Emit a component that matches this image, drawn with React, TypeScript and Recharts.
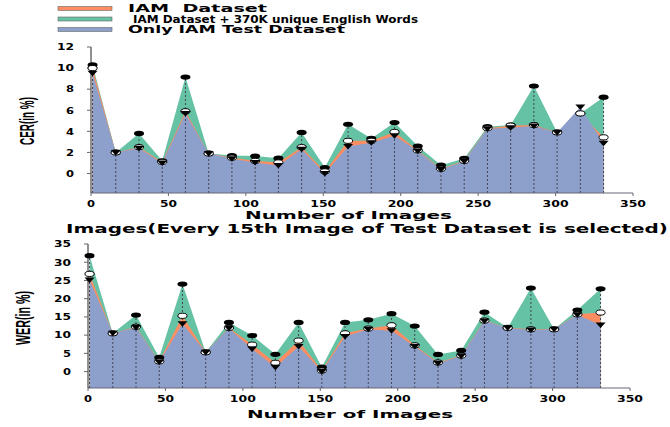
import React from "react"
import {
	ComposedChart,
	Area,
	Line,
	XAxis,
	YAxis,
	ReferenceLine,
} from "recharts"

// every 15th image of the test set
const images = [1, 16, 31, 46, 61, 76, 91, 106, 121, 136, 151, 166, 181, 196, 211, 226, 241, 256, 271, 286, 301, 316, 331]

const cerWords = [10.3, 2.0, 3.8, 1.2, 9.15, 1.9, 1.7, 1.65, 1.45, 3.9, 0.57, 4.67, 3.33, 4.83, 2.6, 0.79, 1.43, 4.44, 4.6, 8.3, 3.9, 5.7, 7.24]
const cerIam = [10.0, 2.0, 2.5, 1.1, 5.9, 1.9, 1.5, 1.2, 1.05, 2.5, 0.2, 3.1, 3.1, 3.94, 2.2, 0.45, 1.2, 4.3, 4.54, 4.6, 3.9, 5.7, 3.43]
const cerTest = [9.5, 2.0, 2.4, 1.0, 5.7, 1.9, 1.4, 1.05, 0.75, 2.3, 0.0, 2.55, 2.92, 3.59, 2.13, 0.38, 1.17, 4.25, 4.35, 4.5, 3.9, 6.3, 2.86]

const werWords = [31.8, 10.5, 15.5, 3.9, 24.0, 5.3, 13.5, 9.9, 4.75, 13.5, 1.2, 13.5, 14.2, 15.9, 12.5, 4.7, 5.8, 16.3, 12.0, 22.9, 11.6, 16.9, 22.7]
const werIam = [26.8, 10.5, 12.3, 2.8, 15.3, 5.3, 12.0, 7.4, 2.4, 8.5, 0.3, 10.5, 11.8, 12.7, 7.2, 2.5, 4.4, 14.0, 12.0, 11.6, 11.6, 15.7, 16.2]
const werTest = [25.1, 10.5, 12.1, 2.6, 13.1, 5.3, 11.9, 6.2, 1.2, 6.9, 0.0, 9.6, 11.6, 11.2, 6.9, 2.3, 4.3, 13.9, 12.0, 11.4, 11.6, 15.6, 12.8]

const xTicks = [0, 50, 100, 150, 200, 250, 300, 350]
const cerTicks = [0, 2, 4, 6, 8, 10, 12]
const werTicks = [0, 5, 10, 15, 20, 25, 30, 35]

const ORANGE = "#FC8D62"
const GREEN = "#66C2A5"
const BLUE = "#8DA0CB"
const WIDE = "DejaVu Sans"

const legend = [
	{ label: "IAM  Dataset", color: ORANGE, x: 128, len: 139 },
	{ label: "IAM Dataset + 370K unique English Words", color: GREEN, x: 133, len: 285 },
	{ label: "Only IAM Test Dataset", color: BLUE, x: 128, len: 217 },
]

function buildRows(words: number[], iam: number[], test: number[]) {
	return images.map((x, i) => ({
		x,
		words: words[i],
		iam: iam[i],
		test: test[i],
		top: Math.max(words[i], iam[i], test[i]),
	}))
}

const cerData = buildRows(cerWords, cerIam, cerTest)
const werData = buildRows(werWords, werIam, werTest)

function XTick(props: any) {
	const { x, y, payload } = props
	const s = String(payload.value)
	return (
		<text
			x={x}
			y={y + 6.5}
			textAnchor="middle"
			fontFamily={WIDE}
			fontWeight="bold"
			fontSize={9}
			fill="#000"
			textLength={s.length * 9 - 1}
			lengthAdjust="spacingAndGlyphs"
		>
			{s}
		</text>
	)
}

function YTick(props: any) {
	const { x, y, payload } = props
	const s = String(payload.value)
	return (
		<text
			x={x}
			y={y + 3.3}
			textAnchor="end"
			fontFamily={WIDE}
			fontWeight="bold"
			fontSize={9}
			fill="#000"
			textLength={s.length * 9 - 1}
			lengthAdjust="spacingAndGlyphs"
		>
			{s}
		</text>
	)
}

const blackDot = (p: any) => (
	<ellipse key={`b${p.index}`} cx={p.cx} cy={p.cy} rx={5} ry={2.6} fill="#000" />
)
const whiteDot = (p: any) => (
	<ellipse key={`w${p.index}`} cx={p.cx} cy={p.cy} rx={4.6} ry={2.6} fill="#fff" stroke="#000" strokeWidth={1} />
)
const triDot = (p: any) => (
	<polygon
		key={`t${p.index}`}
		points={`${p.cx - 5},${p.cy - 2.5} ${p.cx + 5},${p.cy - 2.5} ${p.cx},${p.cy + 3}`}
		fill="#000"
	/>
)

function Panel({
	data,
	domain,
	ticks,
	height,
	margin,
	yWidth,
}: {
	data: ReturnType<typeof buildRows>
	domain: [number, number]
	ticks: number[]
	height: number
	margin: { top: number; right: number; left: number; bottom: number }
	yWidth: number
}) {
	return (
		<ComposedChart width={670} height={height} data={data} margin={margin}>
			<XAxis
				type="number"
				dataKey="x"
				domain={[0, 350]}
				ticks={xTicks}
				interval={0}
				height={22}
				tick={<XTick />}
				tickSize={3}
				tickMargin={4}
				axisLine={{ stroke: "#667" }}
				tickLine={{ stroke: "#667" }}
			/>
			<YAxis
				type="number"
				domain={domain}
				ticks={ticks}
				interval={0}
				width={yWidth}
				tick={<YTick />}
				tickSize={4}
				tickMargin={13}
				axisLine={{ stroke: "#222" }}
				tickLine={{ stroke: "#666" }}
				allowDataOverflow
			/>
			<Area type="linear" dataKey="words" stroke="none" fill={GREEN} fillOpacity={1} baseValue="dataMin" isAnimationActive={false} />
			<Area type="linear" dataKey="iam" stroke="none" fill={ORANGE} fillOpacity={1} baseValue="dataMin" isAnimationActive={false} />
			<Area type="linear" dataKey="test" stroke="none" fill={BLUE} fillOpacity={1} baseValue="dataMin" isAnimationActive={false} />
			{data.map((d) => (
				<ReferenceLine
					key={d.x}
					segment={[
						{ x: d.x, y: domain[0] },
						{ x: d.x, y: d.top },
					]}
					stroke="#445"
					strokeDasharray="2 2"
					strokeWidth={1}
				/>
			))}
			<Line dataKey="words" stroke="none" dot={blackDot} activeDot={false} isAnimationActive={false} />
			<Line dataKey="iam" stroke="none" dot={whiteDot} activeDot={false} isAnimationActive={false} />
			<Line dataKey="test" stroke="none" dot={triDot} activeDot={false} isAnimationActive={false} />
		</ComposedChart>
	)
}

export default function App() {
	return (
		<div style={{ position: "absolute", left: 0, top: 0, width: 670, height: 427, background: "#fff" }}>
			<div style={{ position: "absolute", left: 0, top: 0 }}>
				<Panel
					data={cerData}
					domain={[-1.85, 12]}
					ticks={cerTicks}
					height={215}
					margin={{ top: 47, right: 37, left: 0, bottom: 0 }}
					yWidth={91}
				/>
			</div>
			<div style={{ position: "absolute", left: 0, top: 220 }}>
				<Panel
					data={werData}
					domain={[-4.5, 35]}
					ticks={werTicks}
					height={190}
					margin={{ top: 24, right: 40, left: 0, bottom: 0 }}
					yWidth={88}
				/>
			</div>

			{/* legend and titles */}
			<svg width={670} height={427} style={{ position: "absolute", left: 0, top: 0, pointerEvents: "none" }}>
				{legend.map((l, i) => {
					const cy = 8.5 + i * 10.5
					return (
						<g key={l.label}>
							<rect x={58} y={cy - 2} width={54} height={4} fill={l.color} stroke="#666" strokeWidth={0.6} />
							<text
								x={l.x}
								y={cy + 3.6}
								fontFamily={WIDE}
								fontWeight="bold"
								fontSize={10}
								fill="#000"
								textLength={l.len}
								lengthAdjust="spacingAndGlyphs"
								style={{ whiteSpace: "pre" }}
							>
								{l.label}
							</text>
						</g>
					)
				})}

				<text x={245} y={219} fontFamily={WIDE} fontWeight="bold" fontSize={11} textLength={207} lengthAdjust="spacingAndGlyphs">
					Number of Images
				</text>
				<text x={66} y={233} fontFamily={WIDE} fontWeight="bold" fontSize={12} textLength={602} lengthAdjust="spacingAndGlyphs">
					Images(Every 15th Image of Test Dataset is selected)
				</text>
				<text x={247} y={418} fontFamily={WIDE} fontWeight="bold" fontSize={11} textLength={206} lengthAdjust="spacingAndGlyphs">
					Number of Images
				</text>

				<text
					transform="translate(34,121) rotate(-90)"
					textAnchor="middle"
					fontFamily="Liberation Sans"
					fontWeight="bold"
					fontSize={20}
					textLength={48}
					lengthAdjust="spacingAndGlyphs"
				>
					CER(in %)
				</text>
				<text
					transform="translate(30,318) rotate(-90)"
					textAnchor="middle"
					fontFamily="Liberation Sans"
					fontWeight="bold"
					fontSize={20}
					textLength={54}
					lengthAdjust="spacingAndGlyphs"
				>
					WER(in %)
				</text>
			</svg>
		</div>
	)
}
